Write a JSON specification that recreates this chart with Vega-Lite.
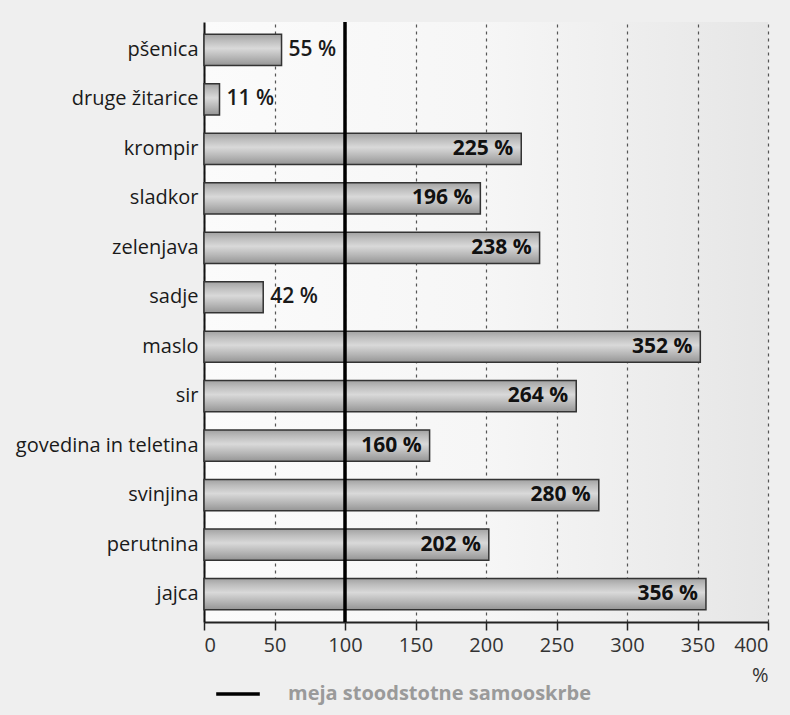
{
  "$schema": "https://vega.github.io/schema/vega-lite/v6.json",
  "width": 564,
  "height": 600,
  "autosize": {"type": "none"},
  "padding": {"left": 204, "top": 22, "right": 22, "bottom": 93},
  "background": "#efefef",
  "config": {
    "font": "Open Sans",
    "view": {
      "stroke": null,
      "fill": {
        "gradient": "linear", "x1": 0, "y1": 0, "x2": 1, "y2": 0,
        "stops": [{"offset": 0, "color": "#fbfbfb"}, {"offset": 0.5, "color": "#f6f6f6"}, {"offset": 1, "color": "#e6e6e6"}]
      }
    }
  },
  "data": {
    "values": [
      {"izdelek": "pšenica", "v": 55},
      {"izdelek": "druge žitarice", "v": 11},
      {"izdelek": "krompir", "v": 225},
      {"izdelek": "sladkor", "v": 196},
      {"izdelek": "zelenjava", "v": 238},
      {"izdelek": "sadje", "v": 42},
      {"izdelek": "maslo", "v": 352},
      {"izdelek": "sir", "v": 264},
      {"izdelek": "govedina in teletina", "v": 160},
      {"izdelek": "svinjina", "v": 280},
      {"izdelek": "perutnina", "v": 202},
      {"izdelek": "jajca", "v": 356}
    ]
  },
  "encoding": {
    "y": {
      "field": "izdelek", "type": "nominal", "sort": null,
      "scale": {"paddingInner": 0.37, "paddingOuter": 0.25},
      "axis": {
        "title": null, "ticks": false, "labelFontSize": 20, "labelColor": "#1a1a1a",
        "labelPadding": 6, "domainColor": "#111", "domainWidth": 2, "labelLimit": 300
      }
    }
  },
  "layer": [
    {
      "mark": {
        "type": "bar", "stroke": "#333", "strokeWidth": 1.5,
        "fill": {
          "gradient": "linear", "x1": 0, "y1": 0, "x2": 0, "y2": 1,
          "stops": [
            {"offset": 0, "color": "#a2a2a2"},
            {"offset": 0.2, "color": "#bdbdbd"},
            {"offset": 0.45, "color": "#d9d9d9"},
            {"offset": 0.75, "color": "#b5b5b5"},
            {"offset": 1, "color": "#959595"}
          ]
        }
      },
      "encoding": {
        "x": {
          "field": "v", "type": "quantitative",
          "scale": {"domain": [0, 400], "nice": false},
          "axis": {
            "values": [0, 50, 100, 150, 200, 250, 300, 350, 400],
            "title": "%", "titleAnchor": "end", "titleAlign": "right", "titleFontWeight": "normal",
            "titleFontSize": 20, "titleColor": "#333", "titlePadding": 10,
            "labelFontSize": 20, "labelColor": "#333", "labelPadding": 5,
            "domainColor": "#222", "domainWidth": 2, "tickColor": "#222", "tickSize": 8, "tickWidth": 1.5,
            "grid": true, "gridColor": "#555", "gridDash": [3, 4], "gridWidth": 1.2
          }
        }
      }
    },
    {
      "transform": [{"filter": "datum.v < 100"}, {"calculate": "datum.v + ' %'", "as": "lbl"}],
      "mark": {"type": "text", "align": "left", "dx": 7, "fontSize": 21, "fontWeight": 600, "color": "#1a1a1a"},
      "encoding": {
        "x": {"field": "v", "type": "quantitative"},
        "text": {"field": "lbl"}
      }
    },
    {
      "transform": [{"filter": "datum.v >= 100"}, {"calculate": "datum.v + ' %'", "as": "lbl"}],
      "mark": {"type": "text", "align": "right", "dx": -8, "fontSize": 21, "fontWeight": "bold", "color": "#111"},
      "encoding": {
        "x": {"field": "v", "type": "quantitative"},
        "text": {"field": "lbl"}
      }
    },
    {
      "data": {"values": [{"meja": 100, "naziv": "meja stoodstotne samooskrbe"}]},
      "mark": {"type": "rule", "strokeWidth": 3.5},
      "encoding": {
        "x": {"field": "meja", "type": "quantitative"},
        "y": null,
        "color": {
          "field": "naziv", "type": "nominal",
          "scale": {"range": ["#000000"]},
          "legend": {
            "title": null, "orient": "none", "legendX": 10, "legendY": 648,
            "symbolType": "stroke", "symbolSize": 1900, "symbolStrokeWidth": 3.5,
            "labelFontSize": 20, "labelFontWeight": "bold", "labelColor": "#9a9a9a", "labelOffset": 26, "labelLimit": 500
          }
        }
      }
    }
  ]
}
